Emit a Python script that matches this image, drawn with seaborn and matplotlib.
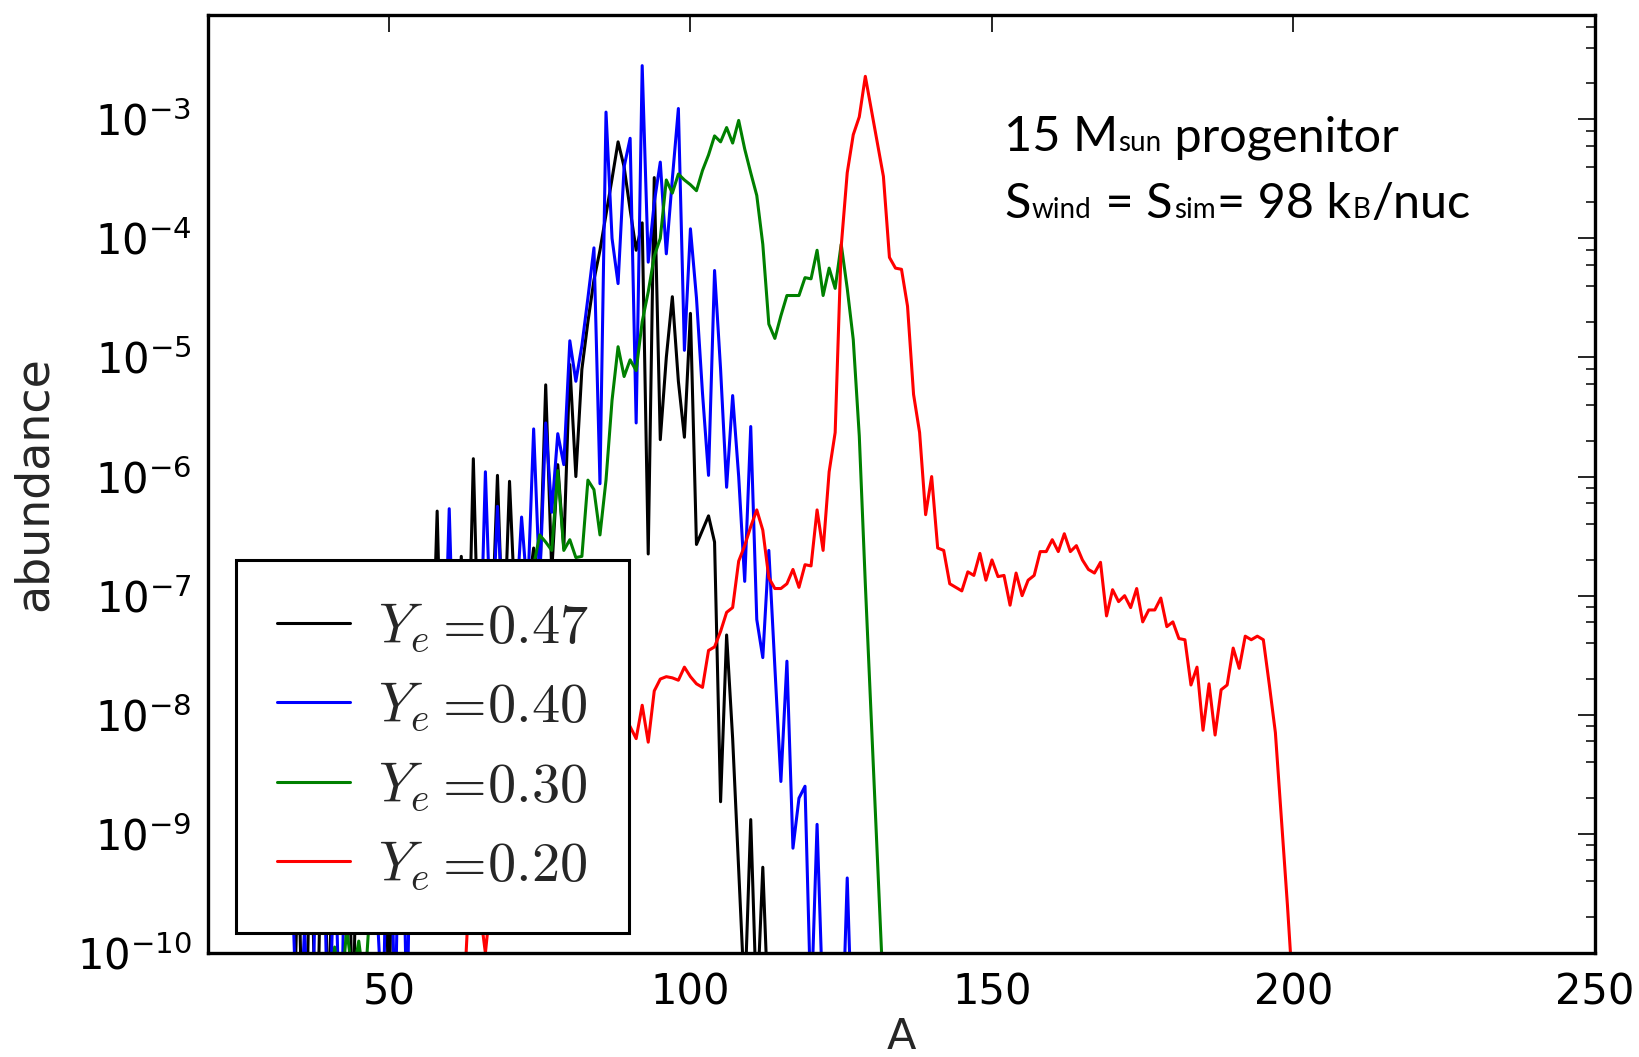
import numpy as np
import pandas as pd
import matplotlib
matplotlib.use("Agg")
import matplotlib.pyplot as plt
import seaborn as sns
from matplotlib.ticker import LogLocator, FixedLocator, NullFormatter
from matplotlib.offsetbox import TextArea, HPacker, VPacker, AnchoredOffsetbox
from matplotlib.font_manager import FontProperties

# ---------------- data (log10 of abundance) ----------------
A_047 = list(range(34, 114))
log_ab_047 = [
    -11.0, -9.2, -11.5, -8.8, -11.0, -8.5, -10.6, -8.3, -9.4, -7.8,      # 34-43
    -10.8, -7.9, -9.6, -7.6, -9.0, -7.7, -10.6, -7.6, -9.1, -7.7,        # 44-53
    -8.6, -7.6, -8.4, -8.0, -6.29, -8.3, -7.9, -8.0, -6.67, -8.0,        # 54-63
    -5.85, -7.8, -7.4, -7.4, -5.99, -7.5, -6.04, -7.2, -6.9, -7.0,       # 64-73
    -6.6, -6.9, -5.23, -6.8, -5.9, -6.6, -5.06, -6.0, -5.1, -4.7,        # 74-83
    -4.35, -4.1, -3.8, -3.5, -3.19, -3.4, -3.76, -4.1, -3.87, -6.65,     # 84-93
    -3.49, -5.69, -5.0, -4.49, -5.2, -5.67, -4.63, -6.57, -6.45, -6.33,  # 94-103
    -6.55, -8.73, -7.33, -8.2, -9.3, -10.4, -8.88, -10.5, -9.28, -10.6,  # 104-113
]

A_040 = list(range(34, 128))
log_ab_040 = [
    -9.5, -11.0, -9.8, -11.0, -9.2, -8.6, -11.0, -9.0, -11.0, -8.2,      # 34-43
    -9.0, -8.0, -8.6, -7.9, -9.6, -10.6, -8.1, -10.6, -8.1, -10.6,       # 44-53
    -7.6, -8.1, -7.6, -7.6, -7.5, -8.0, -6.27, -8.0, -7.5, -7.8,         # 54-63
    -7.0, -7.8, -5.96, -7.5, -6.25, -7.3, -6.9, -7.2, -6.34, -7.0,       # 64-73
    -5.60, -6.9, -5.55, -6.3, -5.64, -5.9, -4.86, -5.2, -4.9, -4.5,      # 74-83
    -4.08, -6.06, -2.94, -4.0, -4.38, -3.4, -3.16, -5.55, -2.55, -4.2,   # 84-93
    -3.7, -3.36, -4.13, -3.5, -2.91, -4.94, -3.92, -4.5, -5.3, -5.99,    # 94-103
    -4.27, -5.1, -6.09, -5.32, -6.0, -6.88, -5.58, -7.2, -7.52, -6.62,   # 104-113
    -7.6, -8.56, -7.55, -9.12, -8.7, -8.6, -10.5, -8.92, -10.5, -11.0,   # 114-123
    -11.0, -11.0, -9.37, -11.0,                                          # 124-127
]

A_030 = list(range(40, 134))
log_ab_030 = [
    -10.6, -9.95, -10.4, -9.8, -10.2, -9.9, -10.3, -9.5, -9.6, -9.2,     # 40-49
    -9.4, -9.0, -9.1, -8.8, -8.9, -8.6, -8.6, -8.3, -8.4, -8.1,          # 50-59
    -8.1, -7.9, -7.9, -7.7, -7.7, -7.5, -7.5, -7.3, -7.3, -7.1,          # 60-69
    -7.1, -7.0, -6.9, -6.9, -6.75, -6.49, -6.55, -6.62, -5.95, -6.62,    # 70-79
    -6.53, -6.68, -6.67, -6.03, -6.11, -6.49, -6.03, -5.36, -4.91, -5.16, # 80-89
    -5.02, -5.11, -4.7, -4.45, -4.15, -4.0, -3.51, -3.62, -3.46, -3.51,  # 90-99
    -3.55, -3.6, -3.43, -3.3, -3.14, -3.19, -3.07, -3.2, -3.01, -3.25,   # 100-109
    -3.45, -3.64, -4.05, -4.72, -4.84, -4.65, -4.48, -4.48, -4.48, -4.33, # 110-119
    -4.34, -4.10, -4.48, -4.25, -4.42, -4.05, -4.42, -4.85, -5.66, -6.9, # 120-129
    -8.05, -9.2, -10.35, -11.5,                                          # 130-133
]

A_020 = list(range(62, 201))
log_ab_020 = [
    -10.8, -9.8, -9.5, -9.6, -10.0, -9.5, -9.4, -9.3, -9.3, -9.1,        # 62-71
    -9.1, -8.9, -9.0, -8.8, -8.7, -8.8, -8.6, -8.5, -8.6, -8.4,          # 72-81
    -8.3, -8.4, -8.2, -8.3, -8.1, -8.2, -8.1, -8.0, -8.1, -8.2,          # 82-91
    -7.92, -8.23, -7.8, -7.7, -7.68, -7.69, -7.71, -7.60, -7.68, -7.74,  # 92-101
    -7.77, -7.46, -7.43, -7.3, -7.14, -7.10, -6.71, -6.58, -6.42, -6.28, # 102-111
    -6.45, -6.85, -6.94, -6.94, -6.90, -6.78, -6.93, -6.74, -6.75, -6.28, # 112-121
    -6.62, -5.96, -5.63, -4.07, -3.45, -3.13, -2.98, -2.64, -2.92, -3.2, # 122-131
    -3.48, -4.16, -4.25, -4.26, -4.57, -5.31, -5.63, -6.32, -6.0, -6.6,  # 132-141
    -6.62, -6.9, -6.93, -6.96, -6.8, -6.83, -6.645, -6.87, -6.7, -6.84,  # 142-151
    -6.83, -7.08, -6.81, -7.0, -6.87, -6.83, -6.63, -6.63, -6.53, -6.63, # 152-161
    -6.48, -6.63, -6.58, -6.7, -6.78, -6.81, -6.72, -7.17, -6.95, -7.05, # 162-171
    -7.0, -7.1, -6.94, -7.22, -7.12, -7.12, -7.02, -7.26, -7.22, -7.36,  # 172-181
    -7.37, -7.75, -7.6, -8.13, -7.74, -8.17, -7.79, -7.75, -7.44, -7.61, # 182-191
    -7.34, -7.37, -7.34, -7.37, -7.75, -8.15, -8.88, -9.6, -10.4,        # 192-200
]

series_labels = [r"$Y_e =\!0.47$", r"$Y_e =\!0.40$", r"$Y_e =\!0.30$", r"$Y_e =\!0.20$"]
series_colors = ["#000000", "#0000ff", "#008000", "#ff0000"]

x_ticks = [50, 100, 150, 200, 250]

# ---------------- build long table ----------------
frames = []
for lab, A, lg in zip(series_labels,
                      [A_047, A_040, A_030, A_020],
                      [log_ab_047, log_ab_040, log_ab_030, log_ab_020]):
    frames.append(pd.DataFrame({"A": A, "abundance": np.power(10.0, lg), "series": lab}))
df = pd.concat(frames, ignore_index=True)

# ---------------- figure ----------------
sns.set_theme(style="white")
plt.rcParams["font.family"] = ["DejaVu Sans"]
plt.rcParams["axes.edgecolor"] = "black"
plt.rcParams["axes.unicode_minus"] = False

fig = plt.figure(figsize=(16.39, 10.57), dpi=100)
ax = fig.add_axes([208 / 1639, 1 - 953 / 1057, (1595 - 208) / 1639, (953 - 15) / 1057])

sns.lineplot(data=df, x="A", y="abundance", hue="series", hue_order=series_labels,
             palette=dict(zip(series_labels, series_colors)), estimator=None,
             sort=False, linewidth=2.2, ax=ax, legend=False)

ax.set_yscale("log")
ax.set_xlim(20, 250)
ax.set_ylim(1e-10, 7.5e-3)

ax.xaxis.set_major_locator(FixedLocator(x_ticks))
ax.yaxis.set_major_locator(LogLocator(base=10, numticks=30))
ax.yaxis.set_minor_locator(LogLocator(base=10, subs=(2.0, 4.0, 6.0, 8.0), numticks=30))
ax.yaxis.set_minor_formatter(NullFormatter())

for sp in ax.spines.values():
    sp.set_linewidth(2.4)
    sp.set_color("black")

ax.tick_params(which="both", direction="in", top=True, right=True, colors="black")
ax.tick_params(which="major", length=12, width=1.2, labelsize=30, pad=12)
ax.tick_params(which="minor", length=6.5, width=1.1)
ax.tick_params(axis="x", which="major", pad=13)

ax.set_xlabel("A", fontsize=31, labelpad=2)
ax.set_ylabel("abundance", fontsize=33, labelpad=14)

# legend
handles = ax.get_lines()[:4]
leg = ax.legend(handles, series_labels, loc="lower left", bbox_to_anchor=(0.0202, 0.0213),
                borderaxespad=0, prop=FontProperties(size=40.5, math_fontfamily="cm"),
                handlelength=1.3, handletextpad=0.5, borderpad=0.72, labelspacing=0.45,
                fancybox=False, framealpha=1, edgecolor="black")
leg.get_frame().set_linewidth(2.2)
for l in leg.get_lines():
    l.set_linewidth(2.2)

# annotation text
big = dict(fontsize=35, family="Lato", color="black")
small = dict(fontsize=20, family="Lato", color="black")
line1 = HPacker(children=[TextArea("15 M", textprops=big), TextArea("sun", textprops=small),
                          TextArea(" progenitor", textprops=big)],
                align="baseline", pad=0, sep=0)
line2 = HPacker(children=[TextArea("S", textprops=big), TextArea("wind", textprops=small),
                          TextArea(" = S", textprops=big), TextArea("sim", textprops=small),
                          TextArea("= 98 k", textprops=big), TextArea("B", textprops=small),
                          TextArea("/nuc", textprops=big)],
                align="baseline", pad=0, sep=1)
block = VPacker(children=[line1, line2], align="left", pad=0, sep=16)
anch = AnchoredOffsetbox(loc="upper left", child=block, frameon=False, pad=0, borderpad=0,
                         bbox_to_anchor=(1004 / 1639, 1 - 115 / 1057),
                         bbox_transform=fig.transFigure)
fig.add_artist(anch)

fig.savefig("out.png", dpi=100)
